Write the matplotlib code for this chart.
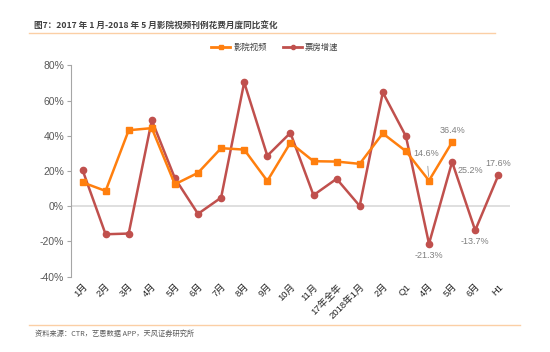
import numpy as np
import matplotlib.pyplot as plt
from matplotlib.lines import Line2D

plt.rcParams['font.family'] = ['Liberation Sans', 'Noto Sans CJK SC']

# categories and series
cats = ['1月', '2月', '3月', '4月', '5月', '6月', '7月', '8月', '9月', '10月', '11月',
        '17年全年', '2018年1月', '2月', 'Q1', '4月', '5月', '6月', 'H1']
cinema = [13.6, 8.7, 43.2, 44.4, 12.5, 19.0, 33.0, 32.2, 14.4, 36.1, 25.6,
          25.4, 24.1, 41.4, 31.3, 14.6, 36.4]
boxoffice = [20.7, -15.9, -15.5, 48.9, 15.9, -4.3, 4.9, 70.4, 28.7, 41.7, 6.3,
             15.6, 0.2, 64.7, 39.8, -21.3, 25.2, -13.7, 17.6]

orange = '#FF7F0E'
red = '#C0504D'
grey = '#595959'
cjk = ['Noto Sans CJK SC', 'DejaVu Sans']

fig = plt.figure(figsize=(5.5, 3.52), dpi=100)
ax = fig.add_axes([0.129, 0.214, 0.798, 0.600])

x = np.arange(len(cats))
ax.axhline(0, color='#D9D9D9', lw=1.2, zorder=1)
ax.plot(x[:len(cinema)], cinema, color=orange, lw=1.8, marker='s', ms=4.5, zorder=3)
ax.plot(x, boxoffice, color=red, lw=1.8, marker='o', ms=4.5, zorder=2)

ax.set_xlim(-0.5, len(cats) - 0.5)
ax.set_ylim(-40, 80)
ax.set_yticks(np.arange(-40, 81, 20))
ax.set_yticklabels([f'{v}%' for v in range(-40, 81, 20)], fontsize=7.5, color=grey)
ax.set_xticks(x)
ax.set_xticklabels(cats, rotation=45, ha='right', va='top', rotation_mode='anchor',
                   fontsize=6.8, color='#262626')
for s in ['top', 'right', 'bottom']:
    ax.spines[s].set_visible(False)
ax.spines['left'].set_color('#A6A6A6')
ax.tick_params(axis='y', length=3, color='#A6A6A6', pad=2)
ax.tick_params(axis='x', length=0, pad=4)

# data labels
lab = dict(fontsize=6.5, color='#7F7F7F')
ax.annotate('14.6%', xy=(15, 14.6), xytext=(14.9, 30.0), ha='center', va='center',
            arrowprops=dict(arrowstyle='-', color='#A6A6A6', lw=0.7, shrinkA=4, shrinkB=3), **lab)
ax.text(16, 40.5, '36.4%', ha='center', va='bottom', **lab)
ax.text(16.25, 20.5, '25.2%', ha='left', va='center', **lab)
ax.text(18, 21.5, '17.6%', ha='center', va='bottom', **lab)
ax.text(15, -25.5, '-21.3%', ha='center', va='top', **lab)
ax.text(17, -17.5, '-13.7%', ha='center', va='top', **lab)

# legend
handles = [Line2D([], [], color=orange, lw=2, marker='s', ms=3),
           Line2D([], [], color=red, lw=2, marker='o', ms=3)]
fig.legend(handles, ['影院视频', '票房增速'], loc='center', bbox_to_anchor=(0.5, 0.866),
           ncol=2, frameon=False, prop={'family': cjk, 'size': 6}, handlelength=2.2,
           columnspacing=2.0, handletextpad=0.4, labelcolor='#404040')

# title, source and rules
fig.text(0.062, 0.925, '图7：2017 年 1 月-2018 年 5 月影院视频刊例花费月度同比变化',
         fontsize=6.2, fontweight='bold', color='#404040', va='center', family=cjk)
fig.add_artist(Line2D([0.052, 0.9], [0.905, 0.905], color='#FBCFA5', lw=1))
fig.add_artist(Line2D([0.052, 0.946], [0.077, 0.077], color='#FBCFA5', lw=1))
fig.text(0.064, 0.052, '资料来源：CTR，艺恩数据 APP，天风证券研究所',
         fontsize=5.2, color='#595959', va='center', family=cjk)

plt.savefig('out.png', dpi=100)
